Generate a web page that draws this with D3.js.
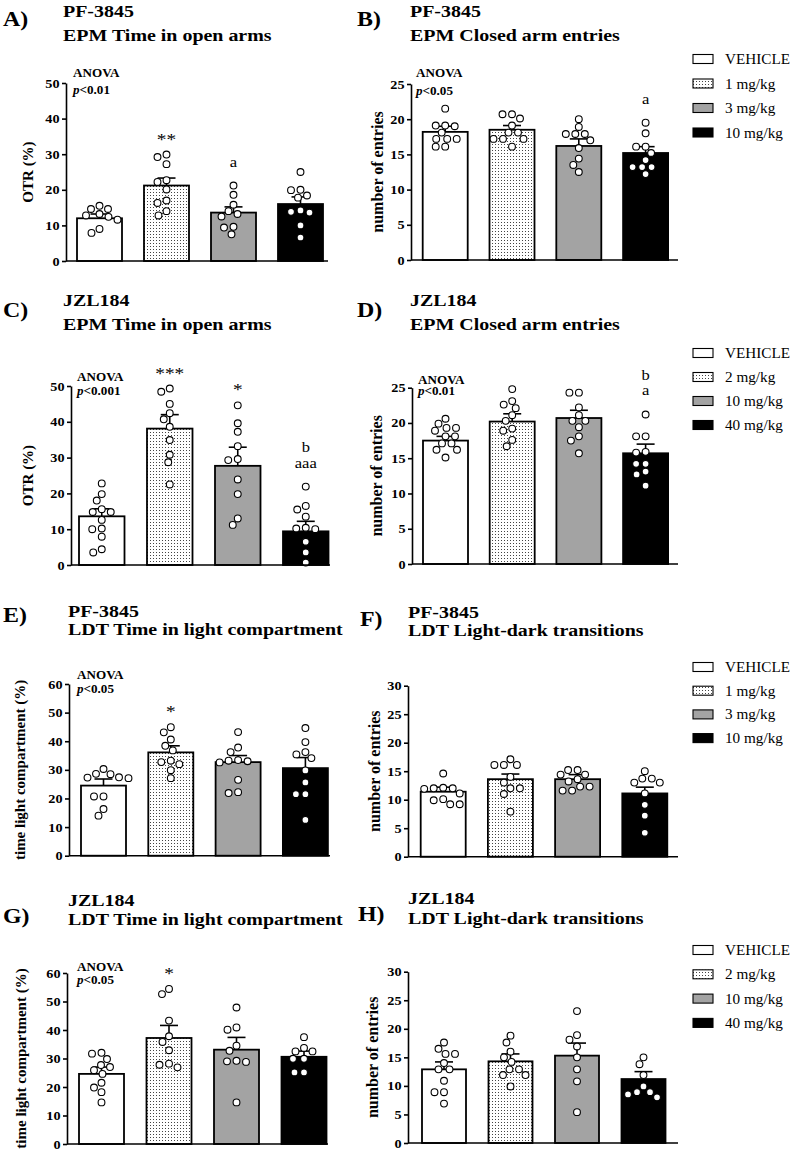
<!DOCTYPE html>
<html><head><meta charset="utf-8">
<script src="https://cdn.jsdelivr.net/npm/d3@7"></script>
<style>html,body{margin:0;padding:0;background:#fff;overflow:hidden}svg{display:block}</style>
</head><body><svg id="chart" width="790" height="1158"></svg>
<script>
// ---------- categories & tick labels ----------
const pfGroups  = ["VEHICLE", "1 mg/kg", "3 mg/kg", "10 mg/kg"];
const jzlGroups = ["VEHICLE", "2 mg/kg", "10 mg/kg", "40 mg/kg"];
const ticksOTR = [0, 10, 20, 30, 40, 50];
const ticksCAE = [0, 5, 10, 15, 20, 25];
const ticksLDT = [0, 10, 20, 30, 40, 50, 60];
const ticksTRN = [0, 5, 10, 15, 20, 25, 30];

// ---------- A) PF-3845 EPM Time in open arms ----------
const aMeans = [12.0, 21.2, 13.6, 16.0];
const aSem   = [1.2, 2.1, 1.6, 2.0];
const aPoints = [
  [15.5, 14.6, 14.6, 13.2, 12.8, 12.4, 11.6, 9.0, 7.9],
  [29.9, 29.2, 27.2, 22.7, 22.2, 20.1, 17.0, 16.3, 14.0, 12.8],
  [21.2, 18.6, 15.8, 14.0, 13.2, 12.5, 9.6, 9.4, 7.5],
  [25.0, 20.0, 19.9, 18.4, 17.8, 14.2, 13.8, 13.6, 10.0, 6.6]
];
const aMarks = [[], ["**"], ["a"], []];

// ---------- B) PF-3845 EPM Closed arm entries ----------
const bMeans = [18.2, 18.5, 16.2, 15.2];
const bSem   = [0.8, 0.6, 1.0, 0.9];
const bPoints = [
  [21.5, 19.1, 19.1, 19.0, 18.1, 17.2, 17.2, 17.2, 16.1, 16.1],
  [20.7, 20.7, 20.1, 19.1, 18.1, 18.1, 17.2, 17.2, 17.2, 16.1],
  [20.0, 18.9, 17.9, 17.9, 17.9, 17.0, 15.9, 14.4, 13.5, 12.5],
  [19.5, 18.0, 16.1, 16.1, 15.2, 14.2, 13.2, 13.2, 13.2, 12.2]
];
const bMarks = [[], [], [], ["a"]];

// ---------- C) JZL184 EPM Time in open arms ----------
const cMeans = [13.6, 38.1, 27.7, 9.4];
const cSem   = [2.1, 3.9, 5.2, 2.8];
const cPoints = [
  [22.8, 19.8, 18.0, 15.6, 14.8, 14.8, 12.6, 10.2, 10.0, 7.9, 4.4, 3.5],
  [49.3, 48.4, 45.0, 42.4, 40.7, 38.6, 34.9, 30.8, 28.7, 22.5],
  [44.6, 39.6, 37.2, 33.2, 29.6, 29.3, 23.9, 19.8, 13.0, 11.2],
  [21.9, 16.5, 15.5, 13.5, 10.4, 10.2, 10.0, 6.5, 3.5, 0.7]
];
const cMarks = [[], ["***"], ["*"], ["b", "aaa"]];

// ---------- D) JZL184 EPM Closed arm entries ----------
const dMeans = [17.5, 20.2, 20.7, 15.7];
const dSem   = [0.6, 1.1, 1.1, 1.3];
const dPoints = [
  [20.6, 19.9, 19.3, 19.3, 18.9, 18.1, 18.1, 17.1, 17.1, 16.2, 16.2, 15.1],
  [24.8, 23.1, 22.6, 22.1, 21.1, 20.3, 19.2, 18.9, 17.6, 16.7],
  [24.3, 24.3, 22.2, 21.1, 20.3, 20.3, 19.4, 18.1, 17.5, 15.7],
  [21.2, 18.1, 18.1, 15.9, 15.8, 14.2, 14.2, 13.1, 12.7, 11.1]
];
const dMarks = [[], [], [], ["b", "a"]];

// ---------- E) PF-3845 LDT Time in light compartment ----------
const eMeans = [24.5, 36.1, 32.7, 30.6];
const eSem   = [2.3, 2.3, 2.3, 3.7];
const ePoints = [
  [30.3, 28.6, 28.5, 27.4, 27.3, 27.1, 20.7, 20.7, 16.3, 14.0],
  [44.9, 43.1, 40.6, 38.4, 36.8, 33.2, 32.7, 32.0, 29.9, 27.1],
  [43.2, 37.8, 36.2, 33.4, 33.2, 33.0, 32.6, 26.5, 22.2, 21.9],
  [44.6, 39.7, 36.2, 35.4, 34.1, 29.8, 25.6, 21.5, 21.5, 12.5]
];
const eMarks = [[], ["*"], [], []];

// ---------- F) PF-3845 LDT Light-dark transitions ----------
const fMeans = [11.4, 13.6, 13.6, 11.1];
const fSem   = [0.8, 0.9, 0.8, 1.1];
const fPoints = [
  [14.6, 12.1, 12.0, 12.0, 11.9, 11.1, 10.1, 9.9, 9.2, 9.2],
  [17.1, 16.1, 16.1, 16.1, 14.0, 13.0, 12.0, 12.0, 11.0, 7.9],
  [15.2, 15.2, 14.4, 14.4, 13.6, 13.2, 12.3, 12.3, 11.6, 11.6],
  [15.0, 13.7, 13.7, 13.0, 13.0, 11.1, 9.1, 7.2, 4.2]
];
const fMarks = [[], [], [], []];

// ---------- G) JZL184 LDT Time in light compartment ----------
const gMeans = [24.6, 37.2, 33.1, 30.6];
const gSem   = [2.4, 4.4, 4.3, 2.0];
const gPoints = [
  [32.0, 31.7, 29.8, 27.7, 27.0, 25.9, 24.6, 21.5, 19.8, 18.2, 14.6],
  [54.4, 52.6, 43.3, 37.8, 35.8, 32.9, 28.2, 27.8, 26.9],
  [47.9, 40.9, 40.1, 34.5, 32.7, 29.2, 29.0, 28.8, 14.6],
  [37.5, 33.7, 32.5, 32.5, 29.9, 29.9, 25.1, 25.1]
];
const gMarks = [[], ["*"], [], []];

// ---------- H) JZL184 LDT Light-dark transitions ----------
const hMeans = [12.9, 14.3, 15.3, 11.2];
const hSem   = [1.3, 1.3, 2.2, 1.3];
const hPoints = [
  [17.6, 16.5, 15.6, 15.6, 14.0, 12.9, 12.9, 10.9, 8.9, 8.9, 6.9],
  [18.8, 17.6, 16.0, 15.0, 14.2, 12.9, 12.9, 11.9, 11.9, 9.9],
  [23.1, 18.9, 18.1, 16.9, 15.0, 12.9, 10.8, 5.4],
  [15.0, 13.8, 11.9, 9.9, 8.9, 8.9, 8.5, 8.0]
];
const hMarks = [[], [], [], []];

// ---------- panel definitions ----------
const panels = [
  {letter:"A)", title:["PF-3845","EPM Time in open arms"], ylabel:"OTR (%)", groups:pfGroups,
   means:aMeans, sem:aSem, points:aPoints, marks:aMarks, ticks:ticksOTR, anova:"0.01", legend:false,
   L:{axisX:66, y0:261, yTop:83, off:11, step:67, barW:45, xEnd:328, lx:3, ly:26, tx:63, ty:[17,41], ylx:27.5, ylSize:15, ax:73, ay:[77,94]}},
  {letter:"B)", title:["PF-3845","EPM Closed arm entries"], ylabel:"number of entries", groups:pfGroups,
   means:bMeans, sem:bSem, points:bPoints, marks:bMarks, ticks:ticksCAE, anova:"0.05", legend:true,
   L:{axisX:411, y0:260, yTop:84, off:11.7, step:66.8, barW:45, xEnd:678, lx:357, ly:26, tx:410, ty:[17,41], ylx:377.5, ylSize:16, ax:416, ay:[77,94.5], legY:59, legStep:24.5}},
  {letter:"C)", title:["JZL184","EPM Time in open arms"], ylabel:"OTR (%)", groups:jzlGroups,
   means:cMeans, sem:cSem, points:cPoints, marks:cMarks, ticks:ticksOTR, anova:"0.001", legend:false,
   L:{axisX:71, y0:565, yTop:386, off:8, step:68, barW:45.5, xEnd:330, lx:3, ly:316.7, tx:63, ty:[306,330], ylx:27.5, ylSize:15, ax:77, ay:[381,394.5]}},
  {letter:"D)", title:["JZL184","EPM Closed arm entries"], ylabel:"number of entries", groups:jzlGroups,
   means:dMeans, sem:dSem, points:dPoints, marks:dMarks, ticks:ticksCAE, anova:"0.01", legend:true,
   L:{axisX:412, y0:564, yTop:387.7, off:11, step:66.7, barW:45, xEnd:678, lx:357, ly:316.7, tx:410, ty:[306,330], ylx:376.5, ylSize:16, ax:418, ay:[384,395], legY:353, legStep:24}},
  {letter:"E)", title:["PF-3845","LDT Time in light compartment"], ylabel:"time light compartment (%)", groups:pfGroups,
   means:eMeans, sem:eSem, points:ePoints, marks:eMarks, ticks:ticksLDT, anova:"0.05", legend:false,
   L:{axisX:69, y0:855.7, yTop:684, off:12, step:67.3, barW:45, xEnd:330, lx:3, ly:621.7, tx:68, ty:[617,635], ylx:20, ylSize:15, ax:77, ay:[678.5,692.5]}},
  {letter:"F)", title:["PF-3845","LDT Light-dark transitions"], ylabel:"number of entries", groups:pfGroups,
   means:fMeans, sem:fSem, points:fPoints, marks:fMarks, ticks:ticksTRN, anova:null, legend:true,
   L:{axisX:408, y0:856.7, yTop:685.7, off:12.7, step:67.2, barW:45, xEnd:678, lx:360, ly:626, tx:408, ty:[618,636], ylx:375, ylSize:16, legY:667, legStep:23.7}},
  {letter:"G)", title:["JZL184","LDT Time in light compartment"], ylabel:"time light compartment (%)", groups:jzlGroups,
   means:gMeans, sem:gSem, points:gPoints, marks:gMarks, ticks:ticksLDT, anova:"0.05", legend:false,
   L:{axisX:67, y0:1144, yTop:973, off:12, step:67.5, barW:45, xEnd:328, lx:3, ly:922.7, tx:68, ty:[906,924.5], ylx:21, ylSize:15, ax:77, ay:[971,984]}},
  {letter:"H)", title:["JZL184","LDT Light-dark transitions"], ylabel:"number of entries", groups:jzlGroups,
   means:hMeans, sem:hSem, points:hPoints, marks:hMarks, ticks:ticksTRN, anova:null, legend:true,
   L:{axisX:408, y0:1143, yTop:971.7, off:14, step:66.5, barW:44, xEnd:678, lx:358, ly:921, tx:408, ty:[904,924], ylx:373, ylSize:16, legY:950, legStep:24.3}}
];

// ---------- drawing ----------
const SX = 1.14;             // horizontal glyph stretch seen in the figure
const FONT = "'Liberation Serif','Times New Roman',serif";
const fills = ["#ffffff", "url(#dots)", "#a3a3a3", "#000000"];
const R = 3.4;

const svg = d3.select("#chart");
svg.append("rect").attr("width", 790).attr("height", 1158).attr("fill", "#fff");
const defs = svg.append("defs");
const pat = defs.append("pattern").attr("id", "dots").attr("patternUnits", "userSpaceOnUse")
  .attr("width", 3).attr("height", 3);
pat.append("rect").attr("width", 3).attr("height", 3).attr("fill", "#fff");
pat.append("rect").attr("x", 0).attr("y", 0).attr("width", 1).attr("height", 1).attr("fill", "#444");

function txt(parent, x, y, s, o = {}) {
  const g = parent.append("g").attr("transform", `translate(${x},${y}) scale(${o.sx || SX},1)`);
  const t = g.append("text")
    .attr("font-family", FONT)
    .attr("font-size", o.size || 14)
    .attr("font-weight", o.weight || "normal")
    .attr("text-anchor", o.anchor || "start")
    .attr("fill", "#000");
  if (s !== null) t.text(s);
  return t;
}

// Prism-like scatter: points close in value are spread sideways in rows
function swarm(values, cx, y) {
  const placed = [];
  const dX = 9.2, dY = 7.6;
  const sorted = values.map(v => ({v, y: y(v)})).sort((a, b) => a.y - b.y);
  for (const p of sorted) {
    let px = cx;
    for (let k = 0; k < 400; k++) {
      const dx = (k % 2 === 1 ? -1 : 1) * Math.ceil(k / 2) * 0.5;
      const cand = cx + dx;
      if (placed.every(q => ((q.x - cand) / dX) ** 2 + ((q.y - p.y) / dY) ** 2 >= 1)) { px = cand; break; }
    }
    placed.push({x: px, y: p.y, v: p.v});
  }
  return placed;
}

panels.forEach(P => {
  const L = P.L;
  const g = svg.append("g");
  const y = d3.scaleLinear().domain([0, d3.max(P.ticks)]).range([L.y0, L.yTop]);
  const x0 = L.axisX + L.off;
  const x = d3.scaleBand().domain(P.groups)
    .range([x0, x0 + 3 * L.step + L.barW])
    .paddingInner(1 - L.barW / L.step).paddingOuter(0);

  // titles
  txt(g, L.lx, L.ly, P.letter, {size: 21, weight: "bold"});
  txt(g, L.tx, L.ty[0], P.title[0], {size: 17.5, weight: "bold"});
  txt(g, L.tx, L.ty[1], P.title[1], {size: 17.5, weight: "bold"});

  // y label
  const cy = (L.y0 + L.yTop) / 2;
  g.append("text")
    .attr("transform", `translate(${L.ylx + 5},${cy}) rotate(-90)`)
    .attr("font-family", FONT).attr("font-size", L.ylSize).attr("font-weight", "bold")
    .attr("text-anchor", "middle")
    .text(P.ylabel);

  // bars
  g.append("g").selectAll("rect").data(P.groups).join("rect")
    .attr("x", d => x(d)).attr("y", (d, i) => y(P.means[i]))
    .attr("width", x.bandwidth()).attr("height", (d, i) => L.y0 - y(P.means[i]))
    .attr("fill", (d, i) => fills[i]).attr("stroke", "#000").attr("stroke-width", 1.8);

  // error bars (upper only)
  P.groups.forEach((gr, i) => {
    const cx = x(gr) + x.bandwidth() / 2;
    const yt = y(P.means[i] + P.sem[i]);
    g.append("line").attr("x1", cx).attr("x2", cx).attr("y1", y(P.means[i])).attr("y2", yt)
      .attr("stroke", "#000").attr("stroke-width", 1.6);
    g.append("line").attr("x1", cx - 9).attr("x2", cx + 9).attr("y1", yt).attr("y2", yt)
      .attr("stroke", "#000").attr("stroke-width", 1.6);
  });

  // points
  P.groups.forEach((gr, i) => {
    const cx = x(gr) + x.bandwidth() / 2;
    const pts = swarm(P.points[i], cx, y);
    g.append("g").selectAll("circle").data(pts).join("circle")
      .attr("cx", d => d.x).attr("cy", d => d.y).attr("r", R)
      .attr("fill", "#fff").attr("stroke", "#000").attr("stroke-width", 1.1);
    // significance marks
    const top = Math.min(y(d3.max(P.points[i])), y(P.means[i] + P.sem[i]));
    const lines = P.marks[i];
    lines.slice().reverse().forEach((m, k) => {
      const star = m.includes("*");
      const base = top - (star ? 16 : 19) - k * 15.5;
      txt(g, cx, base + (star ? 6 : 0), m, {size: star ? 17 : 14.5, anchor: "middle"});
    });
  });

  // axes
  const yAxis = d3.axisLeft(y).tickValues(P.ticks).tickSize(4).tickSizeOuter(0).tickPadding(2);
  const ya = g.append("g").attr("transform", `translate(${L.axisX},0)`).call(yAxis);
  ya.select(".domain").attr("stroke-width", 1.6);
  ya.selectAll(".tick line").attr("stroke-width", 1.6);
  ya.selectAll(".tick text")
    .attr("font-family", FONT).attr("font-size", 12.5).attr("font-weight", "bold")
    .attr("x", -6.5 / SX).attr("transform", `scale(${SX},1)`);
  g.append("line").attr("x1", L.axisX).attr("x2", L.xEnd).attr("y1", L.y0).attr("y2", L.y0)
    .attr("stroke", "#000").attr("stroke-width", 1.6);

  // ANOVA
  if (P.anova) {
    txt(g, L.ax, L.ay[0], "ANOVA", {size: 11.5, weight: "bold"});
    const t = txt(g, L.ax, L.ay[1], null, {size: 11.5, weight: "bold"});
    t.append("tspan").attr("font-style", "italic").text("p");
    t.append("tspan").text("<" + P.anova);
  }

  // legend
  if (P.legend) {
    P.groups.forEach((gr, i) => {
      const ly = L.legY + i * L.legStep;
      g.append("rect").attr("x", 693).attr("y", ly - 4.5).attr("width", 20).attr("height", 9)
        .attr("fill", fills[i]).attr("stroke", "#000").attr("stroke-width", 1.1);
      txt(g, 725, ly + 5, gr, {size: 14.5, sx: 1.05});
    });
  }
});
</script>
</body></html>
